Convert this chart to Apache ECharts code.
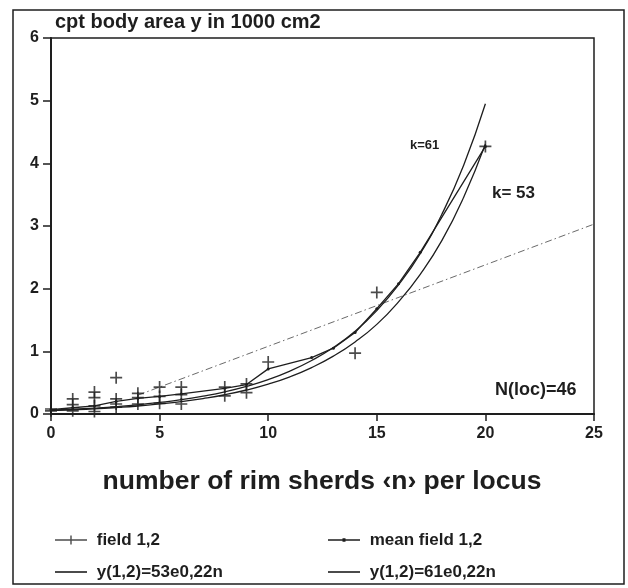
<!DOCTYPE html>
<html>
<head>
<meta charset="utf-8">
<script src="https://cdn.jsdelivr.net/npm/echarts@6/dist/echarts.min.js"></script>
<style>html,body{margin:0;padding:0;background:#fff}#c{width:628px;height:588px}</style>
</head>
<body>
<div id="c"></div>
<script>
// ---- data ----
const xTicks = [0, 5, 10, 15, 20, 25];
const yTicks = [0, 1, 2, 3, 4, 5, 6];

// field 1,2 observations (n, area in 1000 cm2)
const fieldN = [0, 0, 1, 1, 1, 2, 2, 2, 2, 3, 3, 3, 3, 4, 4, 4, 5, 5, 5, 6, 6, 6, 8, 8, 9, 9, 10, 14, 15, 20];
const fieldY = [0.05, 0.08, 0.24, 0.15, 0.05, 0.35, 0.26, 0.13, 0.04, 0.58, 0.24, 0.16, 0.11, 0.33, 0.26, 0.16, 0.43, 0.28, 0.17, 0.43, 0.31, 0.16, 0.43, 0.29, 0.48, 0.34, 0.83, 0.97, 1.94, 4.27];

// mean field 1,2
const meanN = [0, 1, 2, 3, 4, 5, 6, 8, 9, 10, 12, 13, 14, 15, 16, 17, 20];
const meanY = [0.07, 0.10, 0.13, 0.20, 0.25, 0.28, 0.32, 0.41, 0.47, 0.72, 0.90, 1.05, 1.30, 1.68, 2.08, 2.58, 4.27];

// fitted curves
const curveN = [0, 1, 2, 3, 4, 5, 6, 7, 8, 9, 10, 11, 12, 13, 14, 15, 16, 17, 18, 19, 20];
const k53Y = [0.053, 0.066, 0.082, 0.103, 0.128, 0.160, 0.198, 0.247, 0.307, 0.383, 0.477, 0.594, 0.741, 0.923, 1.15, 1.43, 1.79, 2.23, 2.77, 3.46, 4.31];
const k61Y = [0.061, 0.076, 0.095, 0.118, 0.147, 0.184, 0.228, 0.285, 0.354, 0.441, 0.549, 0.684, 0.853, 1.06, 1.32, 1.65, 2.06, 2.56, 3.19, 3.97, 4.95];

// linear (dash-dot) line
const linN = [4, 25];
const linY = [0.30, 3.03];

const names = ['field 1,2', 'mean field 1,2', 'y(1,2)=53e0,22n', 'y(1,2)=61e0,22n'];
// ---------------------------------------

const zip = (a, b) => a.map((v, i) => [v, b[i]]);
const INK = '#1e1e1e';
const FONT = 'Liberation Sans, Arial, Helvetica, sans-serif';

const plusSym = 'path://M4.3,0H5.7V4.3H10V5.7H5.7V10H4.3V5.7H0V4.3H4.3Z';
const iconPlus = 'path://M0,0M0,14M0,6.2H32V7.8H0Z M15.3,2.5H16.7V11.5H15.3Z';
const iconLine = 'path://M0,0M0,14M0,6.2H32V7.8H0Z';
const iconDot = 'path://M0,0M0,14M0,6.2H32V7.8H0Z M14.5,5.3H17.5V8.7H14.5Z';

const chart = echarts.init(document.getElementById('c'), null, {renderer: 'canvas'});
const legendText = {fontFamily: FONT, fontWeight: 'bold', fontSize: 17, lineHeight: 18, color: INK};

chart.setOption({
  animation: false,
  backgroundColor: '#fff',
  grid: {left: 51, right: 34, top: 38, bottom: 174, show: true, borderColor: INK, borderWidth: 1.5, backgroundColor: 'transparent'},
  xAxis: {
    type: 'value', min: xTicks[0], max: xTicks[xTicks.length - 1], interval: 5,
    axisLine: {lineStyle: {color: INK, width: 2}},
    axisTick: {show: true, length: 7, lineStyle: {color: INK, width: 1.5}},
    axisLabel: {fontFamily: FONT, fontWeight: 'bold', fontSize: 16, color: INK, margin: 12},
    splitLine: {show: false}
  },
  yAxis: {
    type: 'value', min: yTicks[0], max: yTicks[yTicks.length - 1], interval: 1,
    axisLine: {lineStyle: {color: INK, width: 2}},
    axisTick: {show: true, length: 8, lineStyle: {color: INK, width: 1.5}},
    axisLabel: {fontFamily: FONT, fontWeight: 'bold', fontSize: 16, color: INK, margin: 12},
    splitLine: {show: false}
  },
  legend: [
    {left: 50, top: 526, orient: 'vertical', itemWidth: 32, itemHeight: 14, itemGap: 14,
     itemStyle: {borderWidth: 0}, lineStyle: {width: 0},
     formatter: n => ' ' + n, textStyle: legendText, selectedMode: false,
     data: [{name: names[0], icon: iconPlus}, {name: names[2], icon: iconLine}]},
    {left: 323, top: 526, orient: 'vertical', itemWidth: 32, itemHeight: 14, itemGap: 14,
     itemStyle: {borderWidth: 0}, lineStyle: {width: 0},
     formatter: n => ' ' + n, textStyle: legendText, selectedMode: false,
     data: [{name: names[1], icon: iconDot}, {name: names[3], icon: iconLine}]}
  ],
  series: [
    {name: 'linear', type: 'line', data: zip(linN, linY), showSymbol: false, silent: true,
     lineStyle: {color: '#6a6a6a', width: 1, type: [7, 3, 1.5, 3]}, z: 1},
    {name: names[2], type: 'line', data: zip(curveN, k53Y), smooth: true, showSymbol: false,
     itemStyle: {color: INK}, lineStyle: {color: INK, width: 1.3}, z: 2},
    {name: names[3], type: 'line', data: zip(curveN, k61Y), smooth: true, showSymbol: false,
     itemStyle: {color: INK}, lineStyle: {color: INK, width: 1.3}, z: 2},
    {name: names[1], type: 'line', data: zip(meanN, meanY), showSymbol: true, symbol: 'circle', symbolSize: 3,
     itemStyle: {color: INK, borderWidth: 0}, lineStyle: {color: INK, width: 1.3}, z: 3},
    {name: names[0], type: 'scatter', data: zip(fieldN, fieldY), symbol: plusSym, symbolSize: 12,
     itemStyle: {color: INK}, z: 4}
  ],
  graphic: [
    {type: 'rect', shape: {x: 13, y: 10, width: 611, height: 574}, style: {fill: 'none', stroke: INK, lineWidth: 1.5}, silent: true},
    {type: 'text', x: 55, y: 22, style: {text: 'cpt body area y in 1000 cm2', font: 'bold 20px ' + FONT, fill: INK, verticalAlign: 'middle'}},
    {type: 'text', x: 322, y: 482, style: {text: 'number of rim sherds \u2039n\u203a per locus', font: 'bold 26.5px ' + FONT, fill: INK, align: 'center', verticalAlign: 'middle'}},
    {type: 'text', x: 410, y: 145, style: {text: 'k=61', font: 'bold 13px ' + FONT, fill: INK, verticalAlign: 'middle'}},
    {type: 'text', x: 492, y: 193, style: {text: 'k= 53', font: 'bold 17px ' + FONT, fill: INK, verticalAlign: 'middle'}},
    {type: 'text', x: 495, y: 390, style: {text: 'N(loc)=46', font: 'bold 18px ' + FONT, fill: INK, verticalAlign: 'middle'}}
  ]
});
</script>
</body>
</html>
